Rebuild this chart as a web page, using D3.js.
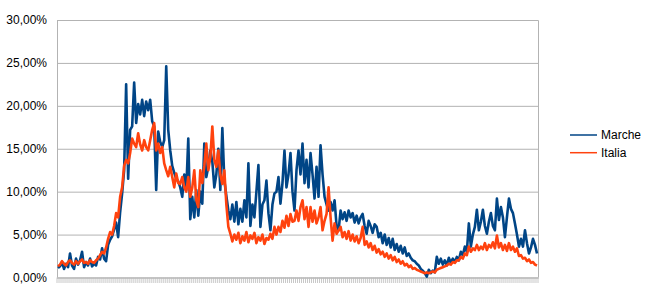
<!DOCTYPE html>
<html>
<head>
<meta charset="utf-8">
<script src="https://cdn.jsdelivr.net/npm/d3@7"></script>
<style>
  body { margin: 0; background: #fff; }
  svg { display: block; font-family: "Liberation Sans", Arial, sans-serif; }
  .grid line { stroke: #b3b3b3; stroke-width: 1; }
  .grid .domain { display: none; }
  .y.axis .domain, .y.axis line { display: none; }
  .y.axis text { font-size: 12px; fill: #000; }
  .line { fill: none; stroke-width: 2.6; stroke-linejoin: round; }
  .legend text { font-size: 12px; fill: #000; }
</style>
</head>
<body>
<svg id="chart" width="650" height="301"></svg>
<script>
// positivity rate (%), one value per day
var marche = [
  1.1, 1.3, 1.8, 1.0, 1.6, 1.2, 2.8, 1.4, 1.0, 2.2,
  1.5, 2.0, 3.0, 1.2, 1.8, 1.4, 2.2, 1.3, 1.6, 1.4,
  2.4, 2.1, 3.4, 2.2, 1.9, 3.8, 4.4, 4.8, 5.6, 6.4,
  4.7, 7.6, 9.8, 12.5, 22.5, 11.5, 17.2, 17.6, 22.7, 18.0,
  20.2, 19.0, 20.7, 18.8, 20.5, 19.5, 20.7, 18.2, 17.6, 10.2,
  17.0, 15.8, 15.2, 16.0, 24.6, 17.2, 14.8, 13.0, 12.2, 11.5,
  11.2, 10.5, 9.4, 12.0, 10.2, 16.2, 6.8, 9.4, 7.0, 10.2,
  7.2, 10.0, 8.6, 15.6, 11.7, 12.9, 14.8, 13.5, 10.5, 12.0,
  15.0, 10.2, 17.4, 11.3, 9.5, 7.8, 6.8, 8.5, 6.5, 8.8,
  6.2, 8.0, 6.5, 9.0, 7.0, 13.3, 6.0, 8.5, 7.0, 10.0,
  13.1, 5.9, 8.5, 9.0, 11.3, 7.5, 5.5, 8.5, 9.8, 10.0,
  11.7, 8.6, 11.0, 14.8, 10.5, 12.0, 14.5, 10.0, 7.8, 12.5,
  14.8, 12.0, 15.6, 11.0, 13.7, 10.5, 14.5, 12.0, 9.2, 12.9,
  9.4, 15.4, 12.0, 9.4, 8.5, 7.8, 8.8, 7.8, 9.0, 6.0,
  5.5, 7.8, 6.8, 7.6, 6.6, 7.8, 7.0, 7.5, 6.4, 7.2,
  6.3, 7.0, 7.4, 6.0, 5.1, 6.6, 6.0, 5.2, 6.2, 5.9,
  4.7, 5.2, 4.0, 5.0, 3.8, 4.6, 3.5, 4.5, 3.2, 3.9,
  3.0, 3.7, 2.8, 3.5, 2.5, 2.8, 2.3, 2.0, 1.9, 1.6,
  1.4, 1.0, 0.8, 0.5, 0.1, 0.9, 0.5, 0.8, 0.6, 2.4,
  1.6, 2.2, 1.5, 2.0, 1.4, 2.3, 1.7, 2.2, 1.8, 2.4,
  2.0, 3.0, 2.6, 3.6, 3.0, 6.3, 3.6, 5.0, 5.9, 7.9,
  5.5, 6.5, 7.9, 6.0, 5.1, 6.5, 7.5, 6.0, 5.5, 9.2,
  6.7, 8.2, 7.0, 4.7, 7.0, 9.2, 8.0, 7.5, 6.3, 5.0,
  3.6, 4.5, 3.6, 5.5, 4.0, 2.8, 3.5, 4.5, 3.8, 2.8
];

var italia = [
  1.3, 1.5, 1.9, 1.6, 1.4, 1.8, 2.0, 1.7, 1.5, 1.9,
  1.6, 1.9, 2.1, 1.7, 1.8, 1.6, 2.0, 1.8, 1.7, 2.0,
  2.2, 2.6, 3.0, 2.8, 3.5, 4.5, 5.3, 5.0, 6.0, 7.5,
  7.0, 9.4, 10.5, 13.0, 13.7, 13.3, 14.5, 16.2, 15.6, 15.2,
  16.8, 15.5, 14.8, 16.0, 15.2, 14.8, 16.0, 17.2, 18.0, 14.8,
  15.6, 14.5, 15.2, 13.3, 12.5, 11.8, 12.9, 11.7, 10.5, 12.1,
  11.0, 10.9, 11.7, 10.5, 10.0, 11.7, 9.4, 10.5, 12.5, 9.0,
  8.2, 12.5, 11.0, 13.0, 15.6, 12.5, 14.0, 17.6, 13.7, 12.9,
  14.8, 12.0, 10.9, 12.5, 8.5, 5.9, 5.1, 4.2, 5.0, 4.4,
  5.2, 4.0, 4.8, 4.3, 5.3, 4.1, 4.9, 4.5, 5.2, 4.0,
  4.7, 4.3, 5.0, 3.9, 4.6, 4.4, 5.1, 4.5, 5.9, 5.0,
  5.9, 5.3, 6.6, 5.8, 7.2, 6.0, 7.4, 6.5, 6.6, 7.8,
  6.6, 8.2, 9.0, 6.8, 8.2, 5.9, 8.2, 6.5, 7.8, 6.3,
  7.0, 8.2, 5.5, 6.6, 7.4, 10.5, 7.0, 4.3, 6.3, 5.1,
  5.5, 5.9, 4.7, 5.3, 4.5, 5.4, 4.3, 5.0, 4.2, 4.8,
  4.0, 4.6, 5.9, 3.8, 4.2, 3.5, 4.0, 3.2, 3.7, 2.9,
  3.3, 2.7, 3.0, 2.4, 2.8, 2.2, 2.6, 2.0, 2.4, 1.8,
  2.1, 1.6, 1.9, 1.4, 1.6, 1.2, 1.4, 1.0, 1.1, 0.9,
  0.8, 0.7, 0.6, 0.5, 0.6, 0.5, 0.6, 0.7, 0.6, 0.9,
  1.0, 1.1, 1.2, 1.3, 1.4, 1.6, 1.5, 1.8, 1.7, 2.0,
  2.0, 2.4, 2.2, 2.8, 2.6, 3.6, 3.0, 3.4, 3.2, 3.8,
  3.2, 3.6, 3.3, 4.0, 3.2, 3.8, 3.5, 4.1, 3.4, 4.9,
  3.5, 4.0, 3.2, 3.8, 3.1, 4.0, 3.2, 3.6, 3.0, 3.4,
  2.5, 2.6, 2.2, 2.3, 1.9, 2.1, 1.7, 1.8, 1.5, 1.4
];

var days = d3.range(marche.length);
var yTicks = [0, 5, 10, 15, 20, 25, 30];
var seriesNames = ["Marche", "Italia"];
var seriesColors = ["#004586", "#ff420e"];

var svg = d3.select("#chart"),
    margins = { top: 20, left: 57, right: 112, bottom: 23.5 },
    width = 650,
    height = 301;

var xRange = d3.scaleBand()
    .domain(days)
    .range([margins.left, width - margins.right]);

var yRange = d3.scaleLinear()
    .domain([0, 30])
    .range([height - margins.bottom, margins.top]);

var it = d3.formatLocale({ decimal: ",", thousands: ".", grouping: [3], currency: ["", " €"] });
var pct = it.format(".2%");

// horizontal grid
svg.append("g")
    .attr("class", "grid")
    .attr("transform", "translate(" + margins.left + ",0)")
    .call(d3.axisLeft(yRange)
        .tickValues(yTicks)
        .tickSize(-(width - margins.left - margins.right))
        .tickFormat(""));

// plot frame (left, top, right)
var x0 = margins.left, x1 = width - margins.right,
    y0 = margins.top, y1 = height - margins.bottom;
svg.append("path")
    .attr("d", "M" + (x0 + 0.5) + "," + y1 + "V" + (y0 + 0.5) + "H" + (x1 + 0.5) + "V" + y1)
    .attr("fill", "none")
    .attr("stroke", "#b3b3b3");

// dense category ticks under the x axis
svg.append("g")
    .selectAll("line")
    .data(days.concat([days.length]))
    .join("line")
    .attr("x1", function (d) { return d < days.length ? xRange(d) : x1; })
    .attr("x2", function (d) { return d < days.length ? xRange(d) : x1; })
    .attr("y1", y1)
    .attr("y2", y1 + 5.5)
    .attr("stroke", "#c8c8c8")
    .attr("stroke-width", 1);

svg.append("line")
    .attr("x1", x0).attr("x2", x1 + 1)
    .attr("y1", y1 + 0.5).attr("y2", y1 + 0.5)
    .attr("stroke", "#b3b3b3");

svg.append("g")
    .attr("class", "y axis")
    .attr("transform", "translate(" + (margins.left - 10) + ",0)")
    .call(d3.axisLeft(yRange)
        .tickValues(yTicks)
        .tickSize(0)
        .tickPadding(0)
        .tickFormat(function (d) { return pct(d / 100); }));

var lineFunc = d3.line()
    .x(function (d, i) { return xRange(i) + xRange.bandwidth() / 2; })
    .y(function (d) { return yRange(d); });

[marche, italia].forEach(function (series, k) {
    svg.append("path")
        .attr("class", "line")
        .attr("d", lineFunc(series))
        .attr("stroke", seriesColors[k]);
});

// legend
var legend = svg.append("g").attr("class", "legend");
seriesNames.forEach(function (name, k) {
    var ly = 135 + k * 17.7;
    legend.append("line")
        .attr("x1", 570).attr("x2", 597)
        .attr("y1", ly).attr("y2", ly)
        .attr("stroke", seriesColors[k])
        .attr("stroke-width", 1.5);
    legend.append("text")
        .attr("x", 601)
        .attr("y", ly)
        .attr("dy", "0.35em")
        .text(name);
});
</script>
</body>
</html>
